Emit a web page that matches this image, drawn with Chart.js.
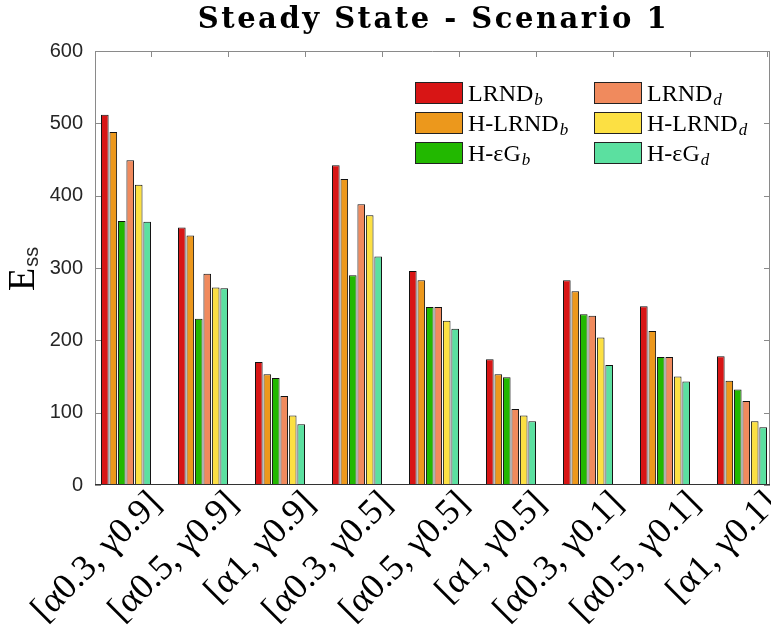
<!DOCTYPE html>
<html>
<head>
<meta charset="utf-8">
<script src="https://cdn.jsdelivr.net/npm/chart.js@4.4.1/dist/chart.umd.min.js"></script>
<style>
  html, body { margin: 0; padding: 0; background: #fff; }
</style>
</head>
<body>
<canvas id="grafico" width="771" height="633"></canvas>
<script>
// categorias (eje x)
const categorias = ['[α0.3, γ0.9]', '[α0.5, γ0.9]', '[α1, γ0.9]',
                    '[α0.3, γ0.5]', '[α0.5, γ0.5]', '[α1, γ0.5]',
                    '[α0.3, γ0.1]', '[α0.5, γ0.1]', '[α1, γ0.1]']

// series
const nombres = ['LRND_b', 'H-LRND_b', 'H-εG_b', 'LRND_d', 'H-LRND_d', 'H-εG_d']
const lrndB  = [512, 356, 170, 442, 296, 174, 283, 247, 178]
const hLrndB = [488, 345, 153, 423, 283, 153, 268, 213, 144]
const hEgB   = [365, 230, 148, 290, 246, 149, 236, 177, 132]
const lrndD  = [449, 292, 123, 388, 246, 105, 234, 177, 116]
const hLrndD = [415, 273,  96, 373, 227,  96, 204, 150,  88]
const hEgD   = [364, 272,  84, 316, 216,  88, 166, 143,  80]
const valores = [lrndB, hLrndB, hEgB, lrndD, hLrndD, hEgD]
const colores = ['#D81515', '#EC981C', '#22B800', '#F08A5D', '#FCE043', '#5BE0A0']

// ticks del eje y
const yMin = 0, yMax = 600, yPaso = 100
const titulo = 'Steady State - Scenario 1'

const datasets = valores.map((serie, k) => ({
  label: nombres[k],
  data: serie.map((v, i) => ({ x: i + 1, y: v })),
  backgroundColor: colores[k],
  borderColor: '#111',
  borderWidth: 1,
  categoryPercentage: 0.66,
  barPercentage: 0.9,
}))

// marco, titulo, leyenda y etiqueta del eje y
const extras = {
  id: 'extras',
  afterDraw(chart) {
    const ctx = chart.ctx
    const a = chart.chartArea
    const ys = chart.scales.y, xs = chart.scales.x
    ctx.save()
    // marco gris con ticks hacia adentro
    ctx.strokeStyle = '#8a8a8a'
    ctx.lineWidth = 1
    ctx.beginPath()
    ctx.moveTo(a.left + 0.5, a.bottom); ctx.lineTo(a.left + 0.5, a.top + 0.5)
    ctx.lineTo(a.right - 0.5, a.top + 0.5); ctx.lineTo(a.right - 0.5, a.bottom)
    for (let v = yMin; v <= yMax; v += yPaso) {
      const py = Math.round(ys.getPixelForValue(v)) + 0.5
      ctx.moveTo(a.left, py); ctx.lineTo(a.left + 6, py)
      ctx.moveTo(a.right, py); ctx.lineTo(a.right - 6, py)
    }
    categorias.forEach((c, i) => {
      const px = Math.round(xs.getPixelForValue(i + 1) + 25) + 0.5
      ctx.moveTo(px, a.top); ctx.lineTo(px, a.top + 6)
    })
    ctx.stroke()
    ctx.strokeStyle = '#333'
    ctx.beginPath()
    ctx.moveTo(a.left, a.bottom - 0.5); ctx.lineTo(a.right, a.bottom - 0.5)
    ctx.stroke()

    // titulo
    ctx.fillStyle = '#000'
    ctx.textAlign = 'center'
    ctx.textBaseline = 'alphabetic'
    ctx.font = 'bold 29px "DejaVu Serif"'
    ctx.letterSpacing = '2.5px'
    ctx.fillText(titulo, (a.left + a.right) / 2 + 1, 28)
    ctx.letterSpacing = '0px'

    // leyenda 2 columnas
    const orden = [0, 3, 1, 4, 2, 5]
    orden.forEach((k, n) => {
      const col = n % 2, fila = Math.floor(n / 2)
      const x = 415 + col * 179, y = 82 + fila * 30
      ctx.fillStyle = colores[k]
      ctx.fillRect(x, y, 48, 22)
      ctx.strokeStyle = '#222'
      ctx.strokeRect(x + 0.5, y + 0.5, 47, 21)
      const [base, sub] = nombres[k].split('_')
      ctx.fillStyle = '#000'
      ctx.textAlign = 'left'
      ctx.textBaseline = 'alphabetic'
      ctx.font = '24px "Liberation Serif"'
      ctx.fillText(base, x + 53, y + 19)
      const w = ctx.measureText(base).width
      ctx.font = 'italic 17px "Liberation Serif"'
      ctx.fillText(sub, x + 54 + w, y + 23)
    })

    // etiqueta eje y: E_ss
    ctx.translate(34, 291)
    ctx.rotate(-Math.PI / 2)
    ctx.fillStyle = '#000'
    ctx.textAlign = 'left'
    ctx.textBaseline = 'alphabetic'
    ctx.font = '38px "Liberation Serif"'
    ctx.fillText('E', 0, 0)
    const wE = ctx.measureText('E').width
    ctx.font = '20px "Liberation Sans"'
    ctx.fillStyle = '#262626'
    ctx.fillText('ss', wE + 1, 4)
    ctx.restore()
  }
}

new Chart(document.getElementById('grafico'), {
  type: 'bar',
  data: { datasets: datasets },
  options: {
    responsive: false,
    animation: false,
    layout: { padding: { left: 0, right: 1, top: 51, bottom: 0 } },
    plugins: {
      legend: { display: false },
      tooltip: { enabled: false },
      title: { display: false },
    },
    scales: {
      x: {
        type: 'linear',
        offset: false,
        min: 1 - 31 / 77,
        max: 9 + 28 / 77,
        grid: { display: false, drawTicks: false },
        border: { display: false },
        ticks: {
          stepSize: 1,
          includeBounds: false,
          autoSkip: false,
          minRotation: 45,
          maxRotation: 45,
          labelOffset: 30,
          padding: -2,
          color: '#000',
          font: { family: 'Liberation Serif', size: 36 },
          callback: (v) => Number.isInteger(v) && v >= 1 && v <= categorias.length ? categorias[v - 1] : '',
        },
        afterFit: (s) => { s.height = 148 },
      },
      y: {
        min: yMin,
        max: yMax,
        grid: { display: false, drawTicks: false },
        border: { display: false },
        ticks: {
          stepSize: yPaso,
          padding: 12,
          color: '#262626',
          font: { family: 'Liberation Sans', size: 20 },
        },
        afterFit: (s) => { s.width = 95 },
      },
    },
  },
  plugins: [extras],
})
</script>
</body>
</html>
